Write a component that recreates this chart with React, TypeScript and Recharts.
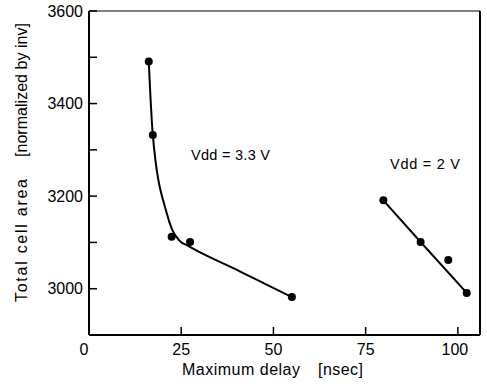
import React from "react";
import { ComposedChart, Line, ReferenceLine, Scatter, XAxis, YAxis } from "recharts";

// measured points (Vdd = 3.3 V and Vdd = 2 V)
const delay33 = [16.2, 17.3, 22.4, 27.4, 55.0];
const area33 = [3491, 3332, 3112, 3101, 2982];
const delay2 = [79.8, 89.9, 97.4, 102.4];
const area2 = [3191, 3101, 3062, 2991];

// fitted curves as drawn through the points
const fitDelay33 = [16.2, 17.3, 21.0, 22.5, 24.5, 27.0, 41.0, 55.0];
const fitArea33 = [3491, 3332, 3165, 3128, 3104, 3092, 3037, 2982];
const fitDelay2 = [79.8, 89.9, 102.4];
const fitArea2 = [3191, 3101, 2991];

const xTicks = [0, 25, 50, 75, 100];
const yTicks = [3000, 3100, 3200, 3300, 3400, 3500, 3600];

const FONT = '"Liberation Sans", Arial, Helvetica, sans-serif';

const toPoints = (xs: number[], ys: number[]) => xs.map((x, i) => ({ x, y: ys[i] }));

const points33 = toPoints(delay33, area33);
const points2 = toPoints(delay2, area2);
const fit33 = toPoints(fitDelay33, fitArea33);
const fit2 = toPoints(fitDelay2, fitArea2);

const XTick = (props: any) => {
  const { x, y, payload } = props;
  const v = payload.value;
  const shift = v === 0 ? -5 : v === 100 ? -3 : 0;
  return (
    <g>
      {v > 0 && <line x1={x} y1={y} x2={x} y2={y - 8} stroke="#000" strokeWidth={1.5} />}
      <text x={x + shift} y={y + 20} textAnchor="middle" fontSize={16} fontFamily={FONT} fill="#000">
        {v}
      </text>
    </g>
  );
};

const YTick = (props: any) => {
  const { x, y, payload } = props;
  const v = payload.value;
  return (
    <g>
      <line x1={x} y1={y} x2={x + 8} y2={y} stroke="#000" strokeWidth={1.5} />
      {v % 200 === 0 && (
        <text x={x - 6} y={y} dy="0.36em" textAnchor="end" fontSize={16} fontFamily={FONT} fill="#000">
          {v}
        </text>
      )}
    </g>
  );
};

const Dot = (props: any) => <circle cx={props.cx} cy={props.cy} r={4} fill="#000" />;

const Texts = () => (
  <g fontFamily={FONT} fill="#000">
    <text x={182} y={375} fontSize={16} textLength={118} lengthAdjust="spacing">
      Maximum delay
    </text>
    <text x={318} y={375} fontSize={16} textLength={45} lengthAdjust="spacing">
      [nsec]
    </text>
    <text transform="translate(27,302) rotate(-90)" fontSize={16} textLength={123} lengthAdjust="spacing">
      Total cell area
    </text>
    <text transform="translate(27,157) rotate(-90)" fontSize={16} textLength={134} lengthAdjust="spacing">
      [normalized by inv]
    </text>
    <text x={191} y={160} fontSize={14.5} textLength={79} lengthAdjust="spacing">
      Vdd = 3.3 V
    </text>
    <text x={390} y={169} fontSize={14.5} textLength={70} lengthAdjust="spacing">
      Vdd = 2 V
    </text>
  </g>
);

export default function App() {
  return (
    <div style={{ position: "absolute", left: 0, top: 0, width: 487, height: 384, background: "#fff" }}>
      <ComposedChart width={487} height={384} margin={{ top: 11, right: 7, left: 0, bottom: 0 }}>
        <XAxis
          dataKey="x"
          type="number"
          domain={[0, 106]}
          ticks={xTicks}
          interval={0}
          allowDataOverflow
          height={49}
          tickSize={0}
          tickMargin={0}
          tickLine={false}
          tick={<XTick />}
          axisLine={{ stroke: "#000", strokeWidth: 2 }}
          label={() => <Texts />}
        />
        <YAxis
          dataKey="y"
          type="number"
          domain={[2900, 3600]}
          ticks={yTicks}
          interval={0}
          allowDataOverflow
          width={89}
          tickSize={0}
          tickMargin={0}
          tickLine={false}
          tick={<YTick />}
          axisLine={{ stroke: "#000", strokeWidth: 2 }}
        />
        <ReferenceLine y={3600} stroke="#555" strokeWidth={1.5} />
        <ReferenceLine x={106} stroke="#000" strokeWidth={2} />
        <Line
          data={fit33}
          dataKey="y"
          type="monotone"
          stroke="#000"
          strokeWidth={2}
          dot={false}
          activeDot={false}
          isAnimationActive={false}
        />
        <Line
          data={fit2}
          dataKey="y"
          type="linear"
          stroke="#000"
          strokeWidth={2}
          dot={false}
          activeDot={false}
          isAnimationActive={false}
        />
        <Scatter data={points33} dataKey="y" shape={<Dot />} isAnimationActive={false} />
        <Scatter data={points2} dataKey="y" shape={<Dot />} isAnimationActive={false} />
      </ComposedChart>
    </div>
  );
}
